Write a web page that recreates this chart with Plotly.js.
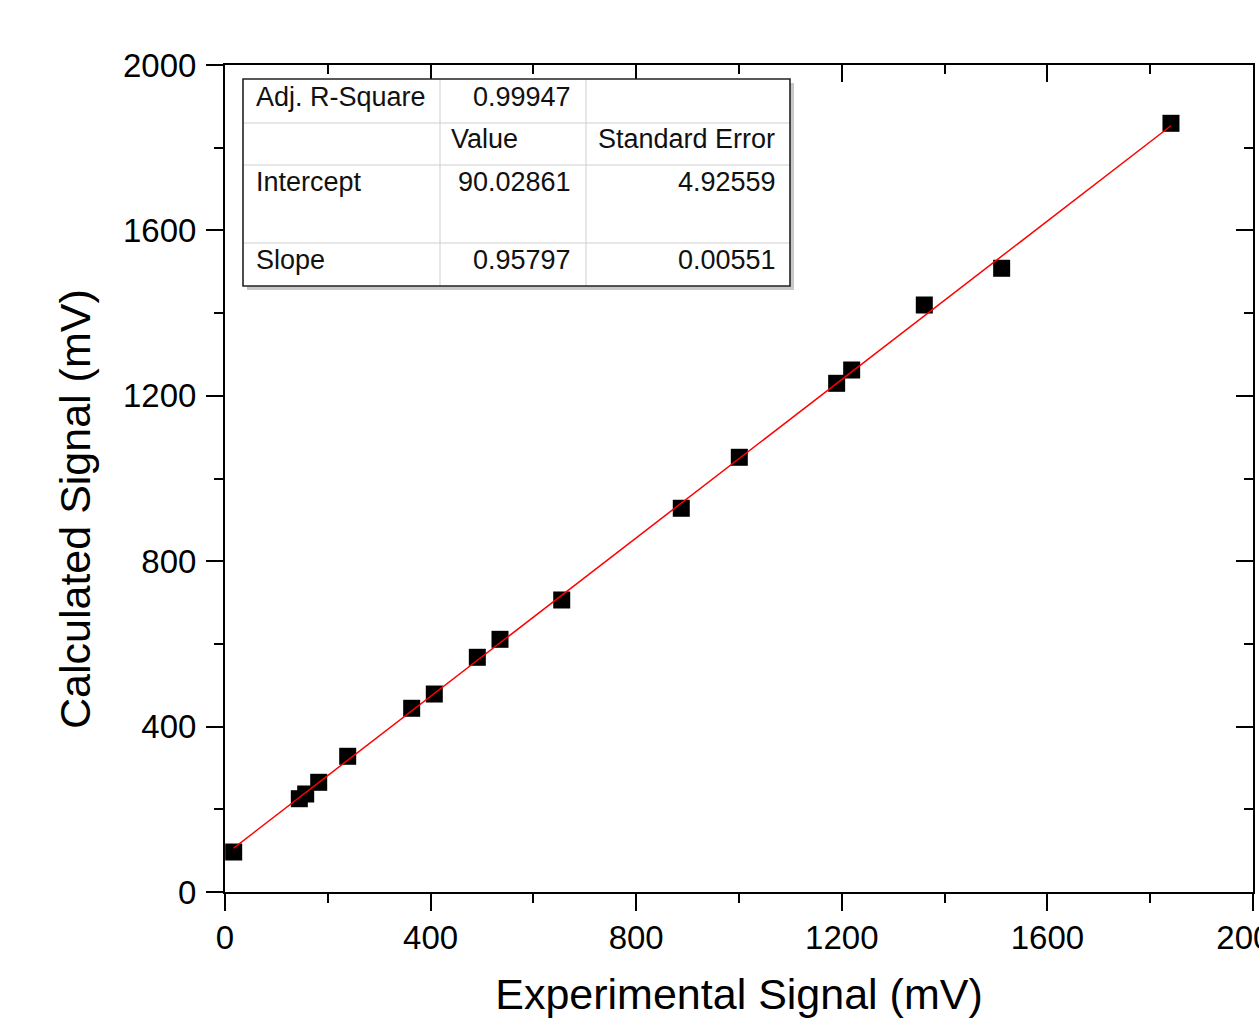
<!DOCTYPE html>
<html>
<head>
<meta charset="utf-8">
<script src="https://cdn.plot.ly/plotly-3.0.1.min.js"></script>
<style>html,body{margin:0;padding:0;background:#fff;}#chart{width:1259px;height:1018px;}</style>
</head>
<body>
<div id="chart"></div>
<script>
// ---- data ----
const expSignal = [16.9, 144.6, 157.0, 182.3, 238.7, 363.2, 407.2, 490.9, 535.0, 655.1, 887.7, 1000.6, 1190.0, 1219.2, 1360.5, 1511.0, 1840.4];
const calcSignal = [96.7, 225.6, 237.0, 265.3, 328.2, 444.3, 478.8, 567.6, 611.1, 706.2, 928.0, 1051.3, 1230.2, 1262.4, 1419.6, 1508.4, 1859.0];
const fitIntercept = 90.02861;
const fitSlope = 0.95797;
const tableRows = [
  ["Adj. R-Square", "0.99947", ""],
  ["", "Value", "Standard Error"],
  ["Intercept", "90.02861", "4.92559"],
  ["Slope", "0.95797", "0.00551"]
];
const xTickVals = [0, 400, 800, 1200, 1600, 2000];
const yTickVals = [0, 400, 800, 1200, 1600, 2000];

// ---- layout geometry ----
const W = 1259, H = 1018;
const M = {l: 225, r: 6, t: 65, b: 126};
const PW = W - M.l - M.r, PH = H - M.t - M.b;
const px = v => (v - M.l) / PW;          // pixel x -> paper
const py = v => (H - M.b - v) / PH;      // pixel y -> paper

const FONT = "Liberation Sans, Arial, Helvetica, sans-serif";

const fitX = [Math.min(...expSignal), Math.max(...expSignal)];
const fitY = fitX.map(x => fitIntercept + fitSlope * x);

const traces = [
  {x: expSignal, y: calcSignal, mode: 'markers', type: 'scatter',
   marker: {symbol: 'square', size: 17, color: '#000', line: {width: 0}}, showlegend: false, hoverinfo: 'x+y'},
  {x: fitX, y: fitY, mode: 'lines', type: 'scatter',
   line: {color: '#ff0000', width: 1.5}, showlegend: false, hoverinfo: 'skip'},
  {x: [], y: [], xaxis: 'x2', yaxis: 'y2', type: 'scatter', showlegend: false}
];

// ---- table (shapes + annotations) ----
const colX = [243, 440, 586, 790];
const rowY = [79, 123, 165, 243, 286];
const shapes = [];
shapes.push({type: 'rect', xref: 'paper', yref: 'paper', x0: px(colX[0] + 4), x1: px(colX[3] + 4), y0: py(rowY[4] + 4), y1: py(rowY[0] + 4),
  fillcolor: '#c8c8c8', line: {width: 0}});
shapes.push({type: 'rect', xref: 'paper', yref: 'paper', x0: px(colX[0]), x1: px(colX[3]), y0: py(rowY[4]), y1: py(rowY[0]),
  fillcolor: '#ffffff', line: {width: 0}});
for (let i = 1; i < 4; i++) {
  shapes.push({type: 'line', xref: 'paper', yref: 'paper', x0: px(colX[0]), x1: px(colX[3]), y0: py(rowY[i]), y1: py(rowY[i]),
    line: {color: '#cfcfcf', width: 1}});
}
for (let j = 1; j < 3; j++) {
  shapes.push({type: 'line', xref: 'paper', yref: 'paper', x0: px(colX[j]), x1: px(colX[j]), y0: py(rowY[4]), y1: py(rowY[0]),
    line: {color: '#cfcfcf', width: 1}});
}
shapes.push({type: 'rect', xref: 'paper', yref: 'paper', x0: px(colX[0]), x1: px(colX[3]), y0: py(rowY[4]), y1: py(rowY[0]),
  fillcolor: 'rgba(0,0,0,0)', line: {color: '#222', width: 1.6}});

const textY = [97, 139, 182, 260];
const annotations = [];
tableRows.forEach((row, i) => {
  const specs = [
    {x: 254, anchor: 'left'},
    {x: 573, anchor: 'right'},
    {x: 778, anchor: 'right'}
  ];
  row.forEach((t, j) => {
    if (!t) return;
    let sx = specs[j];
    if (i === 1) sx = j === 1 ? {x: 449, anchor: 'left'} : {x: 596, anchor: 'left'};
    annotations.push({xref: 'paper', yref: 'paper', x: px(sx.x), y: py(textY[i]), xanchor: sx.anchor, yanchor: 'middle',
      text: t, showarrow: false, font: {family: FONT, size: 27, color: '#111'}});
  });
});
annotations.push({xref: 'paper', yref: 'paper', x: px(75), y: py(509), xanchor: 'center', yanchor: 'middle', textangle: -90,
  text: 'Calculated Signal (mV)', showarrow: false, font: {family: FONT, size: 43, color: '#000'}});

const axisCommon = {
  range: [0, 2000], showgrid: false, zeroline: false, showline: true, linecolor: '#000', linewidth: 2,
  ticklen: 17, tickwidth: 2, tickcolor: '#000', tickmode: 'array',
  tickfont: {family: FONT, size: 33, color: '#000'}
};

const layout = {
  width: W, height: H,
  margin: M,
  paper_bgcolor: '#fff', plot_bgcolor: '#fff',
  showlegend: false,
  xaxis: Object.assign({}, axisCommon, {
    tickvals: xTickVals, ticktext: xTickVals.map(String), ticks: 'outside',
    minor: {dtick: 200, ticklen: 9, tickwidth: 2, tickcolor: '#000', ticks: 'outside'},
    title: {text: 'Experimental Signal (mV)', font: {family: FONT, size: 43, color: '#000'}, standoff: 35},
    ticklabelstandoff: -2,
    ticklabeloverflow: 'allow'
  }),
  yaxis: Object.assign({}, axisCommon, {
    tickvals: yTickVals, ticktext: yTickVals.map(String), ticks: 'outside',
    minor: {dtick: 200, ticklen: 9, tickwidth: 2, tickcolor: '#000', ticks: 'outside'},
    ticklabelstandoff: 3,
    ticklabeloverflow: 'allow'
  }),
  xaxis2: Object.assign({}, axisCommon, {
    overlaying: 'x', side: 'top', anchor: 'y2', tickvals: xTickVals, ticks: 'inside', showticklabels: false,
    minor: {dtick: 200, ticklen: 9, tickwidth: 2, tickcolor: '#000', ticks: 'inside'}
  }),
  yaxis2: Object.assign({}, axisCommon, {
    overlaying: 'y', side: 'right', anchor: 'x2', tickvals: yTickVals, ticks: 'inside', showticklabels: false,
    minor: {dtick: 200, ticklen: 9, tickwidth: 2, tickcolor: '#000', ticks: 'inside'}
  }),
  shapes: shapes,
  annotations: annotations
};

Plotly.newPlot('chart', traces, layout, {displayModeBar: false, staticPlot: true});
</script>
</body>
</html>
